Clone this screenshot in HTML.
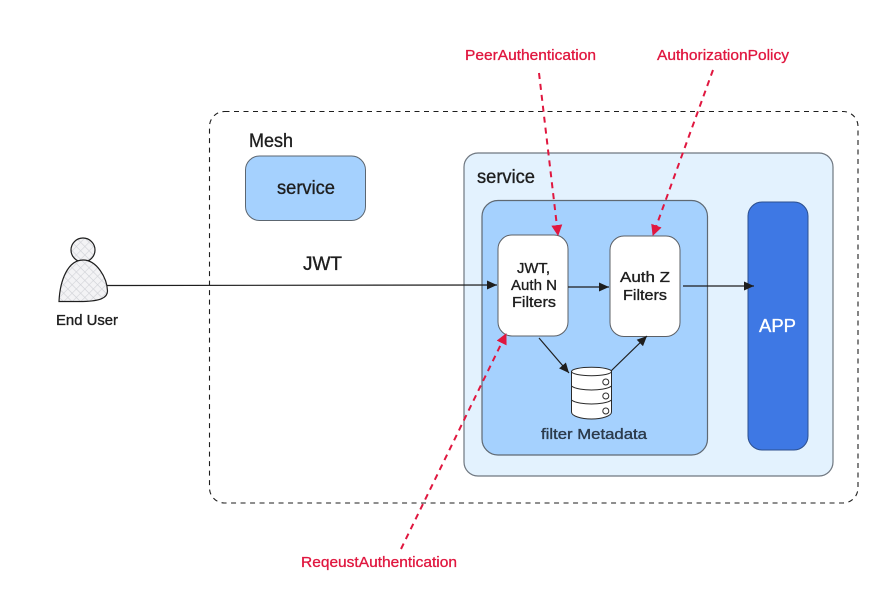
<!DOCTYPE html>
<html>
<head>
<meta charset="utf-8">
<style>
html,body{margin:0;padding:0;background:#fff;width:885px;height:606px;overflow:hidden}
svg{display:block}
text{font-family:"Liberation Sans","DejaVu Sans",sans-serif;fill:#1e1e1e;stroke:#1e1e1e;stroke-width:.35px}
text.r{fill:#e0173f;stroke:#e0173f;stroke-width:.3px}
</style>
</head>
<body>
<svg width="885" height="606" viewBox="0 0 885 606" xmlns="http://www.w3.org/2000/svg">
<defs>
<pattern id="h" width="6" height="6" patternUnits="userSpaceOnUse" patternTransform="rotate(45)">
<rect width="6" height="6" fill="#f3f3f5"/>
<path d="M0 0H6M0 0V6" stroke="#d0d2d7" stroke-width="1.2"/>
</pattern>
<marker id="a" markerUnits="userSpaceOnUse" markerWidth="12" markerHeight="10" refX="10" refY="5" orient="auto">
<path d="M0 0.5L10 5L0 9.5Z" fill="#1e1e1e"/>
</marker>
<marker id="b" markerUnits="userSpaceOnUse" markerWidth="12" markerHeight="12" refX="10" refY="6" orient="auto">
<path d="M0 0.5L11 6L0 11.5Z" fill="#e0173f"/>
</marker>
</defs>

<rect x="209.500" y="111.500" width="648.500" height="391.500" rx="15" fill="#fff" stroke="#1e1e1e" stroke-width="1.100" stroke-dasharray="5 4.500"/>

<rect x="245.500" y="156" width="120" height="64.500" rx="14" fill="#a5d1fe" stroke="#5c6670" stroke-width="1"/>
<rect x="464" y="153" width="369" height="323" rx="14" fill="#e3f2fe" stroke="#6f7780" stroke-width="1.200"/>
<rect x="482" y="200.500" width="225.500" height="254.500" rx="16" fill="#a5d1fe" stroke="#5f6973" stroke-width="1.200"/>
<rect x="498" y="235" width="70" height="101" rx="14" fill="#fff" stroke="#5c6066" stroke-width="1"/>
<rect x="610" y="236" width="70" height="100.500" rx="14" fill="#fff" stroke="#5c6066" stroke-width="1"/>
<rect x="748" y="202" width="60" height="248" rx="14" fill="#3e78e4" stroke="#2c4f8e" stroke-width="1"/>

<!-- person -->
<circle cx="83" cy="250" r="12" fill="url(#h)" stroke="#1e1e1e" stroke-width="1.200"/>
<path d="M59 301.500C60 280 68 260 83 260C97 260 107 278 107.500 291C107.500 298 100 301 83 301.500Z" fill="url(#h)" stroke="#1e1e1e" stroke-width="1.200"/>

<!-- connectors -->
<g fill="none" stroke="#1e1e1e" stroke-width="1.200">
<path d="M107 285.500L497 285" marker-end="url(#a)"/>
<path d="M568 287L609 287" marker-end="url(#a)"/>
<path d="M683 286L754 286" marker-end="url(#a)"/>
<path d="M539 338L569 373" marker-end="url(#a)"/>
<path d="M611 371L647 336" marker-end="url(#a)"/>
</g>

<!-- cylinder -->
<g fill="#fff" stroke="#2a2a2a" stroke-width="1">
<path d="M571.500 371.500V412C571.500 416 581 419 591.500 419C602 419 611.500 416 611.500 412V371.500Z"/>
<ellipse cx="591.500" cy="371.500" rx="20" ry="4.200" fill="#fff"/>
<path d="M571.500 386C575 389 585 390 591.500 390C598 390 608 389 611.500 386" fill="none"/>
<path d="M571.500 400C575 403 585 404 591.500 404C598 404 608 403 611.500 400" fill="none"/>
<circle cx="605.800" cy="382" r="3"/>
<circle cx="605.800" cy="396" r="3"/>
<circle cx="605.800" cy="411" r="3"/>
</g>

<!-- red dashed -->
<g fill="none" stroke="#e0173f" stroke-width="2" stroke-dasharray="6 5">
<path d="M539 73L558 235" marker-end="url(#b)"/>
<path d="M713 70L653 235" marker-end="url(#b)"/>
<path d="M401 549L506 334" marker-end="url(#b)"/>
</g>

<!-- labels -->
<text x="249" y="147" font-size="19" textLength="44" lengthAdjust="spacingAndGlyphs">Mesh</text>
<text x="277" y="194" font-size="19" textLength="58" lengthAdjust="spacingAndGlyphs">service</text>
<text x="477" y="183" font-size="19" textLength="58" lengthAdjust="spacingAndGlyphs">service</text>
<text x="303" y="270" font-size="19" textLength="39" lengthAdjust="spacingAndGlyphs">JWT</text>
<text x="56" y="325" font-size="14.500" textLength="62" lengthAdjust="spacingAndGlyphs">End User</text>
<text x="517" y="273" font-size="15" textLength="33" lengthAdjust="spacingAndGlyphs">JWT,</text>
<text x="511" y="290" font-size="15" textLength="46" lengthAdjust="spacingAndGlyphs">Auth N</text>
<text x="512" y="307" font-size="15" textLength="44" lengthAdjust="spacingAndGlyphs">Filters</text>
<text x="620" y="282" font-size="15" textLength="50" lengthAdjust="spacingAndGlyphs">Auth Z</text>
<text x="623" y="300" font-size="15" textLength="44" lengthAdjust="spacingAndGlyphs">Filters</text>
<text x="541" y="439" font-size="14.500" textLength="106" lengthAdjust="spacingAndGlyphs" style="fill:#2b3a4a;stroke:#2b3a4a">filter Metadata</text>
<text x="759" y="332" font-size="18" textLength="37" lengthAdjust="spacingAndGlyphs" style="fill:#fff;stroke:#fff">APP</text>
<text class="r" x="465" y="60" font-size="14.500" textLength="131" lengthAdjust="spacingAndGlyphs">PeerAuthentication</text>
<text class="r" x="657" y="60" font-size="14.500" textLength="132" lengthAdjust="spacingAndGlyphs">AuthorizationPolicy</text>
<text class="r" x="301" y="567" font-size="14.500" textLength="156" lengthAdjust="spacingAndGlyphs">ReqeustAuthentication</text>
</svg>
</body>
</html>
